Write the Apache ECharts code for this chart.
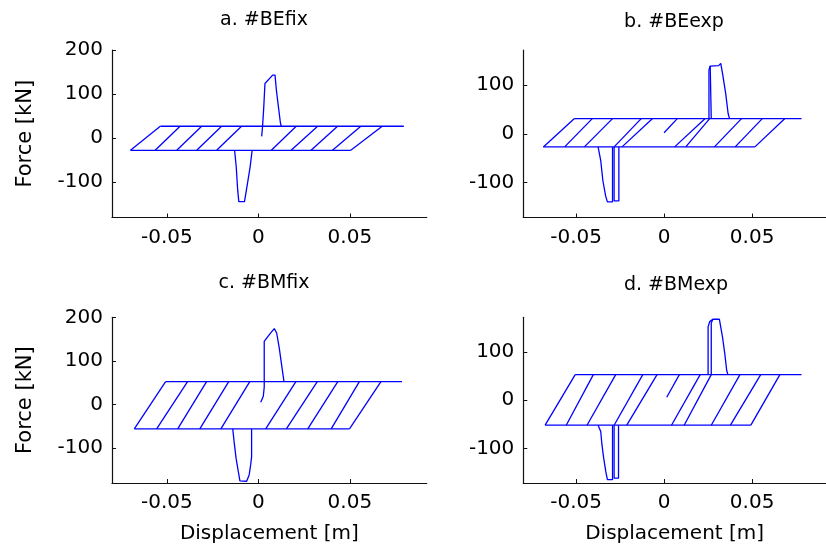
<!DOCTYPE html>
<html><head><meta charset="utf-8">
<script src="https://cdn.jsdelivr.net/npm/echarts@6/dist/echarts.min.js"></script>
<style>html,body{margin:0;padding:0;background:#fff}#c{width:826px;height:552px}</style>
</head><body><div id="c"></div>
<script>
// ---------------- data ----------------
const panelTitles = ['a. #BEfix', 'b. #BEexp', 'c. #BMfix', 'd. #BMexp'];
const xTickLabels = [-0.05, 0, 0.05];
const yTickLabelsAC = [-100, 0, 100, 200];
const yTickLabelsBD = [-100, 0, 100];
const xRange = [-0.08, 0.092];
const yRangeAC = [-180, 200];
const yRangeBD = [-172, 172];

// Panel a (#BEfix)
const aTopF = 27, aBotF = -27.5;
const aTopLineX = [-0.0536, 0.0795];
const aBotLineX = [-0.0699, 0.0505];
const aDiagBotX = [-0.0699, -0.0564, -0.0446, -0.0337, -0.0228, 0.0071, 0.0179, 0.0288, 0.0405, 0.0505];
const aDiagTopX = [-0.0536, -0.0428, -0.0310, -0.0201, -0.0092, 0.0207, 0.0324, 0.0433, 0.0560, 0.0677];
const aSpikeUp = [[0.0018, 4], [0.0023, 27], [0.0029, 67], [0.0036, 124], [0.0078, 143], [0.0091, 143], [0.0099, 107], [0.0110, 70], [0.0120, 36], [0.0125, 27]];
const aSpikeDown = [[-0.0130, -27.5], [-0.0121, -65], [-0.0113, -118], [-0.0107, -144], [-0.0076, -144], [-0.0067, -122], [-0.0045, -65], [-0.0034, -27.5]];

// Panel b (#BEexp)
const bTopF = 31, bBotF = -27;
const bTopLineX = [-0.0511, 0.0781];
const bBotLineX = [-0.0686, 0.0516];
const bDiagBotX = [-0.0686, -0.0565, -0.0453, -0.0284, -0.0239, 0.0060, 0.0123, 0.0286, 0.0404, 0.0516];
const bDiagTopX = [-0.0511, -0.0408, -0.0293, -0.0130, -0.0067, 0.0232, 0.0259, 0.0440, 0.0558, 0.0685];
const bStart = [[0.0, 2], [0.0075, 31]];
const bSpikeUpOuter = [[0.0255, 31], [0.0255, 131], [0.0262, 139], [0.0310, 140], [0.0322, 144.5], [0.0332, 124], [0.0350, 83], [0.0364, 41], [0.0372, 31]];
const bSpikeUpInner = [[0.0262, 139], [0.0268, 139], [0.0268, 31]];
const bSpikeDownOuter = [[-0.0375, -27], [-0.0360, -55], [-0.0348, -96], [-0.0332, -128], [-0.0322, -140], [-0.0293, -140], [-0.0293, -27]];
const bSpikeDownInner = [[-0.0284, -27], [-0.0284, -138], [-0.0257, -138], [-0.0257, -27]];

// Panel c (#BMfix)
const cTopF = 52.5, cBotF = -56;
const cTopLineX = [-0.0507, 0.0785];
const cBotLineX = [-0.0678, 0.0498];
const cDiagBotX = [-0.0678, -0.0556, -0.0441, -0.0320, -0.0205, 0.0040, 0.0153, 0.0270, 0.0398, 0.0498];
const cDiagTopX = [-0.0507, -0.0387, -0.0283, -0.0162, -0.0047, 0.0205, 0.0322, 0.0434, 0.0552, 0.0670];
const cSpikeUp = [[0.0013, 5], [0.0027, 19], [0.0032, 40], [0.0032, 145], [0.0063, 162], [0.0087, 174], [0.0100, 164], [0.0114, 130], [0.0127, 91], [0.0140, 52.5]];
const cSpikeDown = [[-0.0140, -56], [-0.0133, -84], [-0.0122, -123], [-0.0110, -153], [-0.0101, -175], [-0.0064, -176], [-0.0050, -161], [-0.0042, -138], [-0.0037, -120], [-0.0037, -56]];

// Panel d (#BMexp)
const dTopF = 53, dBotF = -52;
const dTopLineX = [-0.0505, 0.0781];
const dBotLineX = [-0.0676, 0.0493];
const dDiagBotX = [-0.0676, -0.0556, -0.0438, -0.0284, -0.0212, 0.0042, 0.0114, 0.0268, 0.0377, 0.0493];
const dDiagTopX = [-0.0505, -0.0402, -0.0275, -0.0121, -0.0040, 0.0205, 0.0268, 0.0431, 0.0549, 0.0658];
const dStart = [[0.0015, 6], [0.0087, 53]];
const dSpikeUpOuter = [[0.0250, 53], [0.0250, 152], [0.0259, 163], [0.0277, 168], [0.0314, 168], [0.0319, 166], [0.0332, 131], [0.0345, 96], [0.0356, 61], [0.0363, 53]];
const dSpikeUpInner = [[0.0268, 53], [0.0268, 160], [0.0277, 168]];
const dSpikeDownOuter = [[-0.0375, -52], [-0.0360, -65], [-0.0353, -93], [-0.0343, -121], [-0.0331, -149], [-0.0322, -165], [-0.0293, -165], [-0.0293, -52]];
const dSpikeDownInner = [[-0.0284, -52], [-0.0284, -162], [-0.0259, -162], [-0.0259, -52]];

// ---------------- build ----------------
const FONT = 'DejaVu Sans';
const BLUE = '#0000ff';

function panelPaths(topF, botF, topX, botX, diagBot, diagTop, extras) {
  const paths = [];
  paths.push([[topX[0], topF], [topX[1], topF]]);
  paths.push([[botX[0], botF], [botX[1], botF]]);
  for (let i = 0; i < diagBot.length; i++) {
    paths.push([[diagBot[i], botF], [diagTop[i], topF]]);
  }
  extras.forEach(e => paths.push(e));
  return paths;
}

const panels = [
  panelPaths(aTopF, aBotF, aTopLineX, aBotLineX, aDiagBotX, aDiagTopX, [aSpikeUp, aSpikeDown]),
  panelPaths(bTopF, bBotF, bTopLineX, bBotLineX, bDiagBotX, bDiagTopX, [bStart, bSpikeUpOuter, bSpikeUpInner, bSpikeDownOuter, bSpikeDownInner]),
  panelPaths(cTopF, cBotF, cTopLineX, cBotLineX, cDiagBotX, cDiagTopX, [cSpikeUp, cSpikeDown]),
  panelPaths(dTopF, dBotF, dTopLineX, dBotLineX, dDiagBotX, dDiagTopX, [dStart, dSpikeUpOuter, dSpikeUpInner, dSpikeDownOuter, dSpikeDownInner])
];

const grids = [
  {left: 112, top: 50, width: 314.7, height: 167.5},
  {left: 523.3, top: 50, width: 316.5, height: 167.5},
  {left: 112, top: 317.3, width: 314.7, height: 165.7},
  {left: 523.3, top: 317.3, width: 316.5, height: 165.7}
];
const titlePos = [[264, 11], [674, 13], [264, 274], [676, 276]];

const axisLineStyle = {show: true, onZero: false, lineStyle: {color: '#111', width: 1.2}};
const tickLabelStyle = {fontFamily: FONT, fontSize: 20, color: '#000'};

const xAxes = [], yAxes = [], series = [], titles = [];
for (let p = 0; p < 4; p++) {
  const bottomRow = p >= 2;
  const leftCol = p % 2 === 0;
  xAxes.push({
    gridIndex: p, type: 'value', min: xRange[0], max: xRange[1],
    axisLine: axisLineStyle,
    axisTick: {show: true, inside: true, length: 4, customValues: xTickLabels, lineStyle: {color: '#111'}},
    axisLabel: Object.assign({customValues: xTickLabels, margin: 10}, tickLabelStyle),
    splitLine: {show: false},
    name: bottomRow ? 'Displacement [m]' : '',
    nameLocation: 'middle', nameGap: 41,
    nameTextStyle: {fontFamily: FONT, fontSize: 20, color: '#000'}
  });
  const yr = leftCol ? yRangeAC : yRangeBD;
  const yt = leftCol ? yTickLabelsAC : yTickLabelsBD;
  yAxes.push({
    gridIndex: p, type: 'value', min: yr[0], max: yr[1],
    axisLine: axisLineStyle,
    axisTick: {show: true, inside: true, length: 4, customValues: yt, lineStyle: {color: '#111'}},
    axisLabel: Object.assign({customValues: yt, margin: 9}, tickLabelStyle),
    splitLine: {show: false},
    name: leftCol ? 'Force [kN]' : '',
    nameLocation: 'middle', nameGap: 76, nameRotate: 90,
    nameTextStyle: {fontFamily: FONT, fontSize: 21, color: '#000'}
  });
  titles.push({
    text: panelTitles[p], left: titlePos[p][0], top: titlePos[p][1], textAlign: 'center', padding: 0,
    textStyle: {fontFamily: FONT, fontSize: 19, fontWeight: 'normal', color: '#000'}
  });
  panels[p].forEach(path => {
    series.push({
      type: 'line', xAxisIndex: p, yAxisIndex: p, data: path,
      showSymbol: false, symbol: 'none', silent: true,
      lineStyle: {color: BLUE, width: 1.3}, clip: true
    });
  });
}

const chart = echarts.init(document.getElementById('c'), null, {renderer: 'canvas'});
chart.setOption({
  animation: false,
  backgroundColor: '#fff',
  title: titles,
  grid: grids,
  xAxis: xAxes,
  yAxis: yAxes,
  series: series
});
</script></body></html>
